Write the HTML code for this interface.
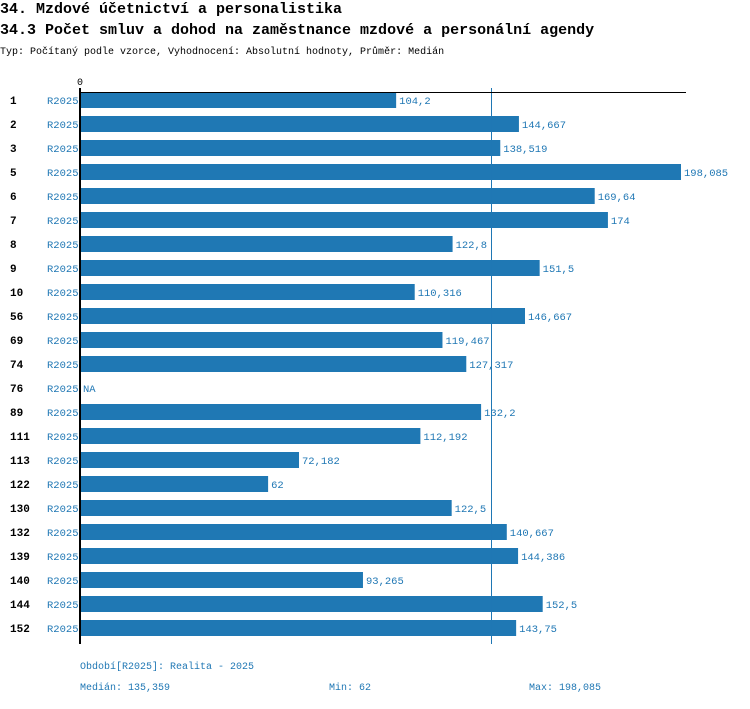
<!DOCTYPE html>
<html><head><meta charset="utf-8"><style>
body{margin:0;background:#fff;font-family:"Liberation Mono",monospace;}
svg text{font-family:"Liberation Mono",monospace;}
</style></head><body>
<svg id="c" width="750" height="704" xmlns="http://www.w3.org/2000/svg">
<text x="0" y="13" font-size="15" font-weight="bold">34. Mzdové účetnictví a personalistika</text>
<text x="0" y="34" font-size="15" font-weight="bold">34.3 Počet smluv a dohod na zaměstnance mzdové a personální agendy</text>
<text x="0" y="54" font-size="10">Typ: Počítaný podle vzorce, Vyhodnocení: Absolutní hodnoty, Průměr: Medián</text>
<text x="80" y="85" font-size="10" text-anchor="middle">0</text>
<g id="bars"></g>
<text x="80" y="669" font-size="10" fill="#1f77b4">Období[R2025]: Realita - 2025</text>
<text x="80" y="690" font-size="10" fill="#1f77b4">Medián: 135,359</text>
<text x="329" y="690" font-size="10" fill="#1f77b4">Min: 62</text>
<text x="529" y="690" font-size="10" fill="#1f77b4">Max: 198,085</text>
</svg>
<script>
const categories=["1","2","3","5","6","7","8","9","10","56","69","74","76","89","111","113","122","130","132","139","140","144","152"];
const values=[104.2,144.667,138.519,198.085,169.64,174,122.8,151.5,110.316,146.667,119.467,127.317,null,132.2,112.192,72.182,62,122.5,140.667,144.386,93.265,152.5,143.75];
const valueLabels=["104,2","144,667","138,519","198,085","169,64","174","122,8","151,5","110,316","146,667","119,467","127,317","NA","132,2","112,192","72,182","62","122,5","140,667","144,386","93,265","152,5","143,75"];
const median=135.359;
const NS="http://www.w3.org/2000/svg";
const svg=document.getElementById('c'),g=document.getElementById('bars');
const x0=80,xMax=681,vMax=198.085;
const xs=v=>x0+v*(xMax-x0)/vMax;
const y0=100,step=24;
const ys=i=>y0+i*step;
function mk(t,a){const e=document.createElementNS(NS,t);for(const k in a)e.setAttribute(k,a[k]);return e;}
categories.forEach((c,i)=>{
 const y=ys(i);
 let t=mk('text',{x:10,y:y+4,'font-size':11,'font-weight':'bold'});t.textContent=c;
 
 g.appendChild(t);
 t=mk('text',{x:47,y:y+4,'font-size':10.5,fill:'#1f77b4'});t.textContent="R2025";
 
 g.appendChild(t);
 const v=values[i];
 let end=x0;
 if(v!==null){
  const r=mk('rect',{x:x0,y:y-8,width:xs(v)-x0,height:16,fill:'#1f78b4'});
  
  g.appendChild(r);end=xs(v);
 }
 t=mk('text',{x:end+3,y:y+4,'font-size':10.5,fill:'#1f77b4'});t.textContent=valueLabels[i];
 
 g.appendChild(t);
});
let l=mk('line',{x1:Math.round(xs(median))+0.5,x2:Math.round(xs(median))+0.5,y1:88,y2:644,stroke:'#1f77b4','stroke-width':1});

g.appendChild(l);
l=mk('line',{x1:80,x2:686,y1:92.5,y2:92.5,stroke:'#000','stroke-width':1});

g.appendChild(l);
l=mk('line',{x1:80,x2:80,y1:88,y2:644,stroke:'#000','stroke-width':2});

g.appendChild(l);
</script>
</body></html>
